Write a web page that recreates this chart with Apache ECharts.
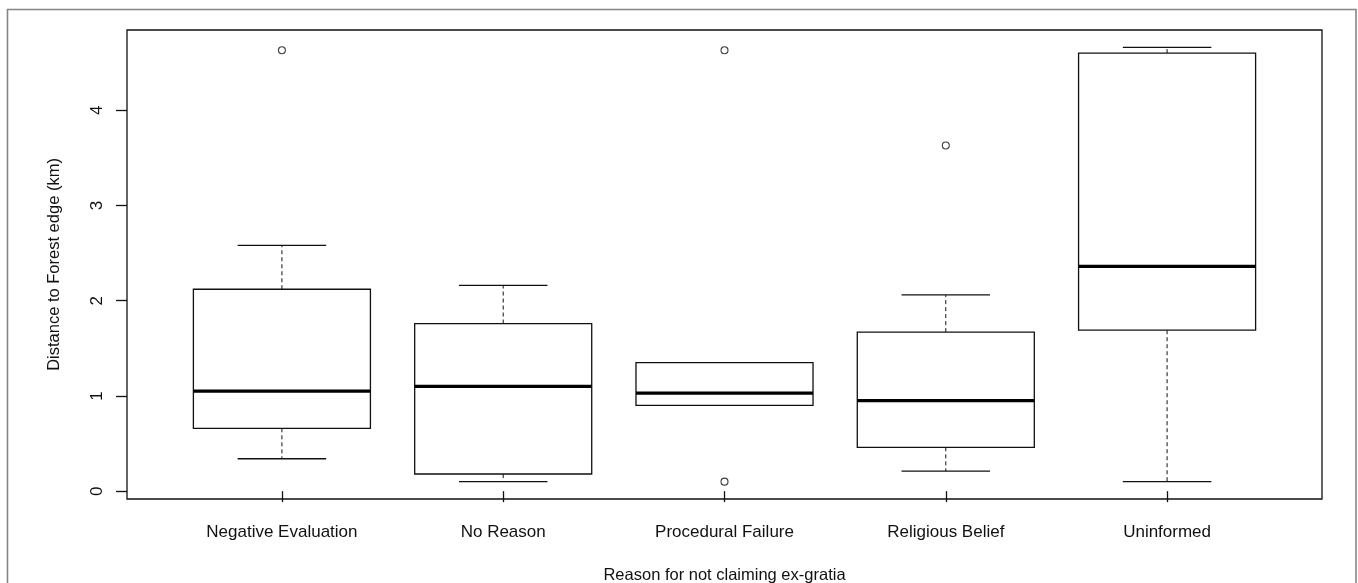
<!DOCTYPE html>
<html>
<head>
<meta charset="utf-8">
<script src="https://cdn.jsdelivr.net/npm/echarts@6/dist/echarts.min.js"></script>
<style>
  html, body { margin: 0; padding: 0; background: #fff; overflow: hidden; }
  #chart { width: 1358px; height: 583px; }
</style>
</head>
<body>
<div id="chart"></div>
<script>
// Distance to forest edge by reason for not claiming ex-gratia
var categories = ['Negative Evaluation', 'No Reason', 'Procedural Failure', 'Religious Belief', 'Uninformed'];
var whiskerLow  = [0.34, 0.10, 0.90, 0.21, 0.10];
var quartile1   = [0.66, 0.18, 0.90, 0.46, 1.69];
var medians     = [1.05, 1.10, 1.03, 0.95, 2.36];
var quartile3   = [2.12, 1.76, 1.35, 1.67, 4.60];
var whiskerHigh = [2.58, 2.16, 1.35, 2.06, 4.66];
var outlierCategory = ['Negative Evaluation', 'Procedural Failure', 'Procedural Failure', 'Religious Belief'];
var outlierValue    = [4.63, 4.63, 0.10, 3.63];
var yTicks = [0, 1, 2, 3, 4];

var FONT = '"Liberation Sans", Arial, sans-serif';
var INK = '#111';

var boxData = categories.map(function (c, i) {
  return [i + 1, whiskerLow[i], quartile1[i], medians[i], quartile3[i], whiskerHigh[i]];
});
var outlierData = outlierCategory.map(function (c, i) {
  return [categories.indexOf(c) + 1, outlierValue[i]];
});
var xPositions = categories.map(function (c, i) { return i + 1; });

// Axis range padded by 4% of the data span on each side
var allVals = whiskerLow.concat(whiskerHigh, outlierValue);
var yMinData = Math.min.apply(null, allVals), yMaxData = Math.max.apply(null, allVals);
var yPad = 0.04 * (yMaxData - yMinData);

function renderBox(params, api) {
  var x = api.value(0);
  var lo = api.coord([x, api.value(1)]);
  var q1 = api.coord([x, api.value(2)]);
  var md = api.coord([x, api.value(3)]);
  var q3 = api.coord([x, api.value(4)]);
  var hi = api.coord([x, api.value(5)]);
  var w = api.size([0.8, 0])[0];
  var cx = lo[0];
  var dashed = { stroke: INK, lineWidth: 1, lineDash: [4, 3] };
  var solid = { stroke: INK, lineWidth: 1.3 };
  return {
    type: 'group',
    children: [
      { type: 'line', shape: { x1: cx, y1: q3[1], x2: cx, y2: hi[1] }, style: dashed },
      { type: 'line', shape: { x1: cx, y1: q1[1], x2: cx, y2: lo[1] }, style: dashed },
      { type: 'line', shape: { x1: cx - w / 4, y1: hi[1], x2: cx + w / 4, y2: hi[1] }, style: solid },
      { type: 'line', shape: { x1: cx - w / 4, y1: lo[1], x2: cx + w / 4, y2: lo[1] }, style: solid },
      { type: 'rect', shape: { x: cx - w / 2, y: q3[1], width: w, height: q1[1] - q3[1] },
        style: { fill: '#fff', stroke: INK, lineWidth: 1.3 } },
      { type: 'line', shape: { x1: cx - w / 2, y1: md[1], x2: cx + w / 2, y2: md[1] },
        style: { stroke: '#000', lineWidth: 3.2 } }
    ]
  };
}

var chart = echarts.init(document.getElementById('chart'), null, { renderer: 'canvas' });
chart.setOption({
  backgroundColor: '#fff',
  animation: false,
  graphic: [{
    type: 'rect',
    shape: { x: 7.5, y: 9.5, width: 1348.5, height: 600 },
    style: { fill: 'none', stroke: '#858585', lineWidth: 1.6 },
    silent: true
  }],
  grid: {
    left: 127, right: 36, top: 30, bottom: 84,
    containLabel: false,
    outerBoundsMode: 'none',
    show: true, borderColor: INK, borderWidth: 1.3, backgroundColor: 'transparent'
  },
  xAxis: {
    type: 'value',
    min: 0.3, max: 5.7,
    name: 'Reason for not claiming ex-gratia',
    nameLocation: 'middle',
    nameGap: 68,
    nameTextStyle: { fontFamily: FONT, fontSize: 16.5, color: INK },
    axisLine: { show: false },
    splitLine: { show: false },
    axisTick: { show: true, length: 11, customValues: xPositions, lineStyle: { color: INK, width: 1.3 } },
    axisLabel: {
      customValues: xPositions,
      formatter: function (v) { return categories[Math.round(v) - 1] || ''; },
      fontFamily: FONT, fontSize: 17, color: INK, margin: 25
    }
  },
  yAxis: {
    type: 'value',
    min: yMinData - yPad, max: yMaxData + yPad,
    name: 'Distance to Forest edge (km)',
    nameLocation: 'middle',
    nameGap: 64,
    nameTextStyle: { fontFamily: FONT, fontSize: 16.5, color: INK },
    axisLine: { show: false },
    splitLine: { show: false },
    axisTick: { show: true, length: 11, customValues: yTicks, lineStyle: { color: INK, width: 1.3 } },
    axisLabel: {
      customValues: yTicks,
      rotate: 90,
      fontFamily: FONT, fontSize: 17, color: INK, margin: 21
    }
  },
  series: [
    {
      type: 'custom',
      renderItem: renderBox,
      data: boxData,
      encode: { x: 0, y: [1, 2, 3, 4, 5] },
      z: 2
    },
    {
      type: 'scatter',
      data: outlierData,
      symbol: 'circle',
      symbolSize: 7,
      itemStyle: { color: '#fff', borderColor: INK, borderWidth: 1.1 },
      z: 3
    }
  ]
});
</script>
</body>
</html>
